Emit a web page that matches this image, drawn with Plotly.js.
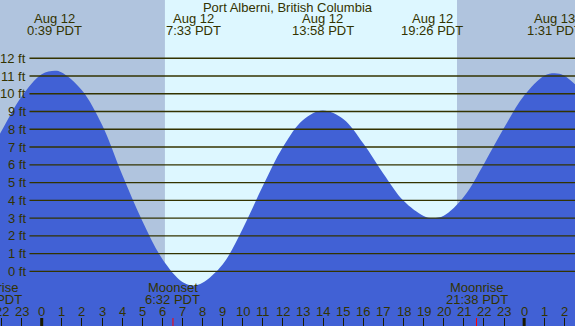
<!DOCTYPE html>
<html>
<head>
<meta charset="utf-8">
<script src="https://cdn.plot.ly/plotly-3.0.1.min.js"></script>
<style>html,body{margin:0;padding:0;overflow:hidden;}#chart{width:575px;height:326px;}</style>
</head>
<body>
<div id="chart"></div>
<script>
// ---- data ----
const hours   = [-2.5, -2, -1, 0, 0.65, 1, 2, 3, 4, 5, 6, 7, 7.55, 8, 9, 10, 11, 12, 13, 13.97, 15, 16, 17, 18, 19, 19.43, 20, 21, 22, 23, 24, 25, 25.52, 26, 27];
const heights = [6.9, 7.9, 9.85, 11.1, 11.3, 11.2, 10.2, 8.25, 5.45, 2.85, 0.7, -0.6, -0.8, -0.65, 0.38, 2.4, 4.8, 7.0, 8.52, 9.06, 8.58, 7.2, 5.5, 3.97, 3.12, 3.0, 3.13, 4.2, 6.05, 8.08, 9.9, 11.02, 11.16, 11.02, 10.0];

const ftLevels = [0, 1, 2, 3, 4, 5, 6, 7, 8, 9, 10, 11, 12];
const ftLabels = ['0 ft', '1 ft', '2 ft', '3 ft', '4 ft', '5 ft', '6 ft', '7 ft', '8 ft', '9 ft', '10 ft', '11 ft', '12 ft'];

const extremaTimes = [0.65, 7.55, 13.97, 19.43, 25.52];
const extremaDates = ['Aug 12', 'Aug 12', 'Aug 12', 'Aug 12', 'Aug 13'];
const extremaClock = ['0:39 PDT', '7:33 PDT', '13:58 PDT', '19:26 PDT', '1:31 PDT'];

const moonTimes = [-2.52, 6.53, 21.63];
const moonEvents = ['Moonrise', 'Moonset', 'Moonrise'];
const moonClock = ['21:29 PDT', '6:32 PDT', '21:38 PDT'];

const sunrise = 6.13;
const sunset = 20.66;

const hourTicks  = [-2, -1, 0, 1, 2, 3, 4, 5, 6, 7, 8, 9, 10, 11, 12, 13, 14, 15, 16, 17, 18, 19, 20, 21, 22, 23, 24, 25, 26];
const hourLabels = ['22', '23', '0', '1', '2', '3', '4', '5', '6', '7', '8', '9', '10', '11', '12', '13', '14', '15', '16', '17', '18', '19', '20', '21', '22', '23', '0', '1', '2'];
const midnights = [0, 24];

const title = 'Port Alberni, British Columbia';

// ---- styling ----
const W = 575, H = 326;
const xRange = [-2.075, 26.53];
const yRange = [-3.08, 15.28];
const textColor = '#333300';
const nightColor = '#B0C4DE';
const dayColor = '#DDF7FF';
const waterColor = '#4161D5';
const font = 'Liberation Sans, Arial, sans-serif';
const fs = 13;
const py = p => 1 - p / H; // pixel-from-top to paper y
const px = t => (t - xRange[0]) / (xRange[1] - xRange[0]); // hour to paper x (keeps off-range labels)

const traces = [
  {x: [xRange[0] - 5, xRange[1] + 5], y: [yRange[0] - 5, yRange[0] - 5], mode: 'lines',
   line: {width: 0, color: waterColor}, hoverinfo: 'skip', showlegend: false},
  {x: hours, y: heights, mode: 'lines', fill: 'tonexty', fillcolor: waterColor,
   line: {shape: 'spline', smoothing: 1, width: 0, color: waterColor}, hoverinfo: 'skip', showlegend: false}
];

const shapes = [
  {type: 'rect', layer: 'below', xref: 'x', yref: 'paper', x0: xRange[0] - 5, x1: sunrise, y0: 0, y1: 1, fillcolor: nightColor, line: {width: 0}},
  {type: 'rect', layer: 'below', xref: 'x', yref: 'paper', x0: sunrise, x1: sunset, y0: 0, y1: 1, fillcolor: dayColor, line: {width: 0}},
  {type: 'rect', layer: 'below', xref: 'x', yref: 'paper', x0: sunset, x1: xRange[1] + 5, y0: 0, y1: 1, fillcolor: nightColor, line: {width: 0}}
];
ftLevels.forEach(v => shapes.push({type: 'line', layer: 'above', xref: 'paper', yref: 'y',
  x0: 29.5 / W, x1: 1, y0: v, y1: v, line: {color: textColor, width: 1.3}}));
midnights.forEach(v => shapes.push({type: 'line', layer: 'above', xref: 'x', yref: 'paper',
  x0: v, x1: v, y0: 0, y1: 8 / H, line: {color: '#1a1a00', width: 3}}));
moonTimes.forEach(v => shapes.push({type: 'line', layer: 'above', xref: 'x', yref: 'paper',
  x0: v, x1: v, y0: 0, y1: 8 / H, line: {color: '#ff0000', width: 1}}));

const annotations = [];
const ann = (o) => annotations.push(Object.assign({showarrow: false, font: {family: font, size: fs, color: textColor}}, o));
ftLevels.forEach((v, i) => ann({xref: 'paper', yref: 'y', x: 28 / W, y: v, xanchor: 'right', yanchor: 'middle', text: ftLabels[i]}));
extremaTimes.forEach((t, i) => {
  ann({xref: 'paper', yref: 'paper', x: px(t), y: py(18.5), xanchor: 'center', yanchor: 'middle', text: extremaDates[i]});
  ann({xref: 'paper', yref: 'paper', x: px(t), y: py(30.5), xanchor: 'center', yanchor: 'middle', text: extremaClock[i]});
});
moonTimes.forEach((t, i) => {
  ann({xref: 'paper', yref: 'paper', x: px(t), y: py(287.5), xanchor: 'center', yanchor: 'middle', text: moonEvents[i]});
  ann({xref: 'paper', yref: 'paper', x: px(t), y: py(299), xanchor: 'center', yanchor: 'middle', text: moonClock[i]});
});
hourTicks.forEach((t, i) => ann({xref: 'paper', yref: 'paper', x: px(t), y: py(311.5), xanchor: 'center', yanchor: 'middle', text: hourLabels[i]}));

const layout = {
  width: W, height: H,
  margin: {l: 0, r: 0, t: 0, b: 0, pad: 0},
  paper_bgcolor: nightColor, plot_bgcolor: 'rgba(0,0,0,0)',
  showlegend: false,
  title: {text: title, font: {family: font, size: fs, color: textColor}, x: 0.5, xanchor: 'center', y: py(7.5), yanchor: 'middle', yref: 'container'},
  xaxis: {range: xRange, showgrid: false, zeroline: false, showline: false, showticklabels: false,
          tickmode: 'array', tickvals: hourTicks, ticks: 'inside', ticklen: 8, tickwidth: 1, tickcolor: '#1a1a00', fixedrange: true},
  yaxis: {range: yRange, showgrid: false, zeroline: false, showline: false, showticklabels: false, fixedrange: true},
  shapes: shapes,
  annotations: annotations
};

Plotly.newPlot('chart', traces, layout, {staticPlot: true, displayModeBar: false});
</script>
</body>
</html>
